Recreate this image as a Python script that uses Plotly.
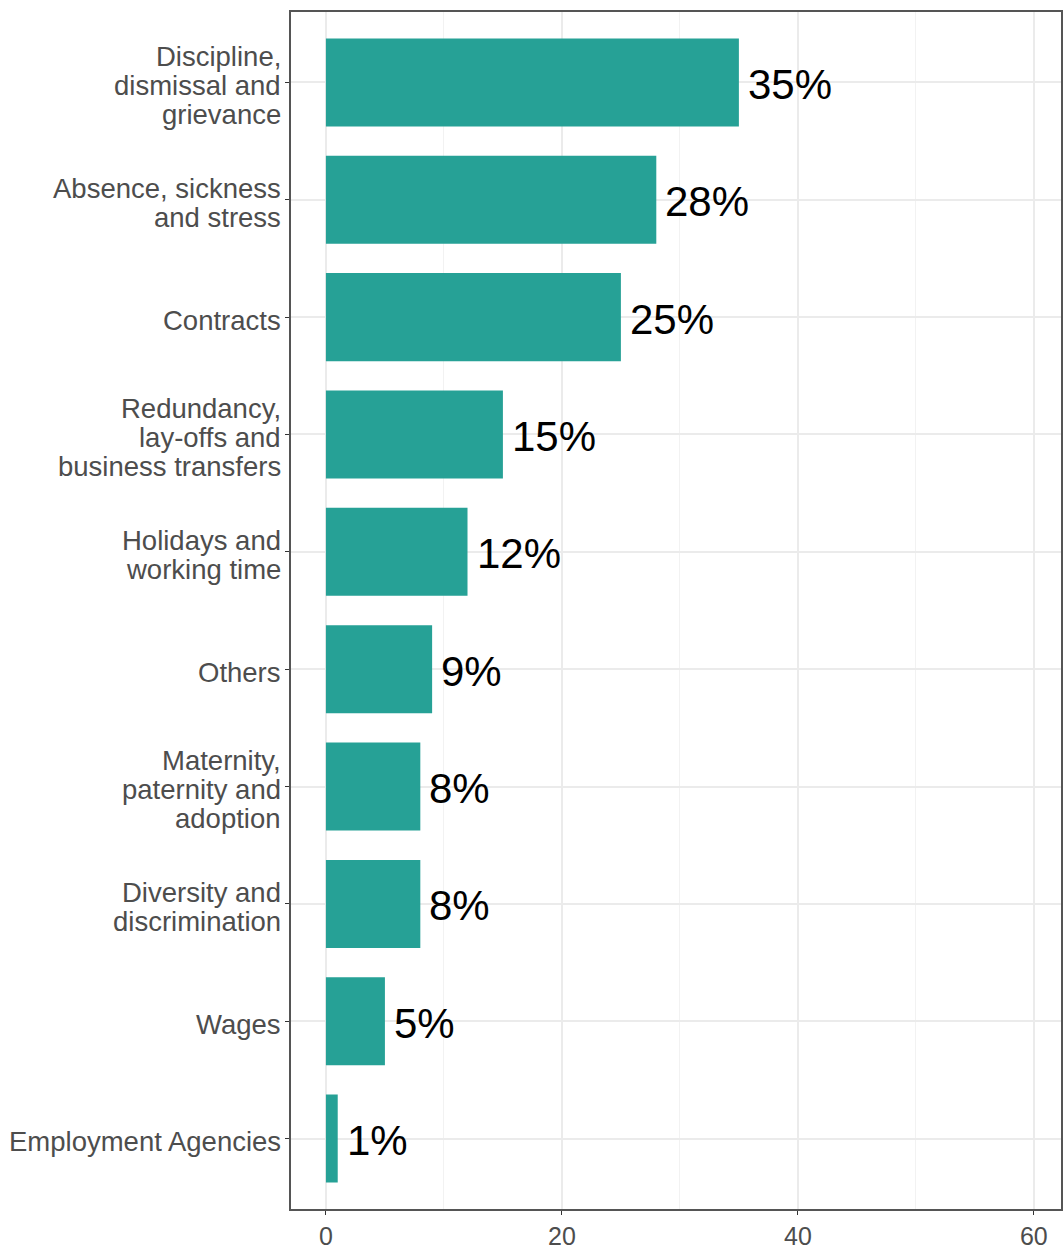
import plotly.graph_objects as go

# Share of enquiries by topic (percent)
categories = [
    "Discipline,<br>dismissal and<br>grievance",
    "Absence, sickness<br>and stress",
    "Contracts",
    "Redundancy,<br>lay-offs and<br>business transfers",
    "Holidays and<br>working time",
    "Others",
    "Maternity,<br>paternity and<br>adoption",
    "Diversity and<br>discrimination",
    "Wages",
    "Employment Agencies",
]
values = [35, 28, 25, 15, 12, 9, 8, 8, 5, 1]
x_ticks = [0, 20, 40, 60]

BAR_COLOR = "#26A196"
FONT = "Arial, Liberation Sans, sans-serif"
LABEL_SIZE = 27.5
LINE_GAP = 29  # px between lines of a wrapped category label

fig = go.Figure(
    go.Bar(
        x=values,
        y=categories,
        orientation="h",
        width=0.75,
        marker=dict(color=BAR_COLOR, line=dict(width=0)),
        hoverinfo="x+y",
    )
)

# Percentage labels just past the end of each bar
for cat, val in zip(categories, values):
    fig.add_annotation(
        x=val,
        y=cat,
        text=f"{val}%",
        showarrow=False,
        xanchor="left",
        yanchor="middle",
        xshift=7,
        yshift=-2,
        font=dict(family=FONT, size=42, color="#000000"),
    )

# Category labels, right-aligned against the axis with tight line spacing
for cat in categories:
    lines = cat.split("<br>")
    n = len(lines)
    for i, line in enumerate(lines):
        fig.add_annotation(
            xref="paper",
            x=0,
            y=cat,
            text=line,
            showarrow=False,
            xanchor="right",
            yanchor="middle",
            xshift=-8,
            yshift=((n - 1) / 2 - i) * LINE_GAP - 3,
            font=dict(family=FONT, size=LABEL_SIZE, color="#4D4D4D"),
        )

fig.update_layout(
    width=1063,
    height=1250,
    margin=dict(l=291, r=0, t=12, b=37),
    paper_bgcolor="white",
    plot_bgcolor="white",
    showlegend=False,
    font=dict(family=FONT),
)

fig.update_xaxes(
    range=[-2.96, 62.3],
    tickvals=x_ticks,
    ticktext=[str(v) for v in x_ticks],
    ticks="outside",
    ticklen=4,
    tickwidth=1.2,
    tickcolor="#333333",
    tickfont=dict(family=FONT, size=25, color="#4D4D4D"),
    showgrid=True,
    gridcolor="#EBEBEB",
    gridwidth=1.5,
    minor=dict(dtick=10, tick0=0, showgrid=True, gridcolor="#F2F2F2", gridwidth=1),
    zeroline=False,
    showline=True,
    mirror=True,
    linecolor="#555555",
    linewidth=1.5,
)

fig.update_yaxes(
    type="category",
    categoryorder="array",
    categoryarray=categories,
    range=[len(categories) - 0.4, -0.6],
    ticks="outside",
    ticklen=4,
    tickwidth=1.2,
    tickcolor="#333333",
    showticklabels=False,
    showgrid=True,
    gridcolor="#EBEBEB",
    gridwidth=1.5,
    zeroline=False,
    showline=True,
    mirror=True,
    linecolor="#555555",
    linewidth=1.5,
)

fig.write_html("out.html")
